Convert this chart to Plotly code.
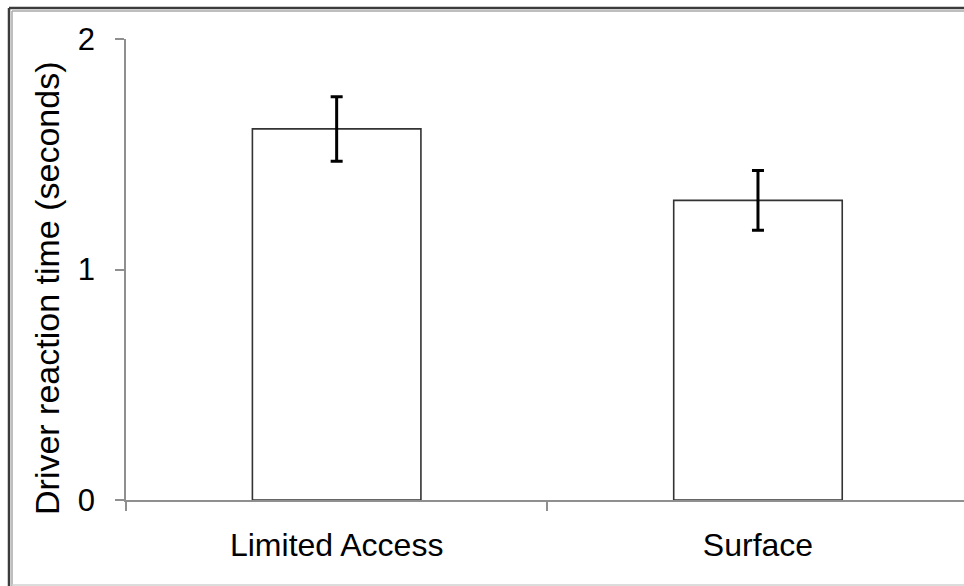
import plotly.graph_objects as go

# Mean driver reaction time by road type, with error bars
categories = ["Limited Access", "Surface"]
reaction_time = [1.61, 1.30]
error = [0.14, 0.13]
y_ticks = [0, 1, 2]

W, H = 964, 586
L, R, T, B = 126, 0, 39, 86
pw, ph = W - L - R, H - T - B


def px(x):
    return (x - L) / pw


def py(y):
    return (H - B - y) / ph


FONT = "Liberation Sans, Arial, sans-serif"
AXIS_GREY = "#8f8f8f"

fig = go.Figure(
    go.Bar(
        x=categories,
        y=reaction_time,
        width=0.4,
        marker=dict(color="white", line=dict(color="#333333", width=1.6)),
        error_y=dict(type="data", array=error, color="black", thickness=3, width=6),
    )
)

fig.update_layout(
    width=W,
    height=H,
    margin=dict(l=L, r=R, t=T, b=B),
    paper_bgcolor="white",
    plot_bgcolor="white",
    showlegend=False,
    font=dict(family=FONT, size=31, color="black"),
    xaxis=dict(
        type="category",
        range=[-0.5, 1.489],
        showline=True,
        linecolor=AXIS_GREY,
        linewidth=1.5,
        ticks="outside",
        tickson="boundaries",
        ticklen=9,
        tickcolor=AXIS_GREY,
        tickwidth=1.5,
        showgrid=False,
        zeroline=False,
        tickfont=dict(size=32),
        ticklabelstandoff=16,
    ),
    yaxis=dict(
        range=[0, 2],
        tickvals=y_ticks,
        showline=True,
        linecolor=AXIS_GREY,
        linewidth=1.5,
        ticks="outside",
        ticklen=9,
        tickcolor=AXIS_GREY,
        tickwidth=1.5,
        showgrid=False,
        zeroline=False,
        tickfont=dict(size=31),
        ticklabelstandoff=14,
    ),
    annotations=[
        dict(
            text="Driver reaction time (seconds)",
            textangle=-90,
            xref="paper",
            yref="paper",
            x=px(47),
            y=py(289),
            xanchor="center",
            yanchor="middle",
            showarrow=False,
            font=dict(size=34, family=FONT, color="black"),
        )
    ],
)

# Outer frame: dark outer rule with a lighter inner rule, faint bottom rule
frame = [
    (px(9), py(8), px(9), py(586), "#3c3c3c", 2.5),
    (px(9), py(8), px(964), py(8), "#3c3c3c", 2.5),
    (px(12), py(11), px(12), py(586), "#a8a8a8", 1.5),
    (px(12), py(11), px(964), py(11), "#a8a8a8", 1.5),
    (px(12), py(585), px(964), py(585), "#d0d0d0", 1.5),
]
for x0, y0, x1, y1, c, w in frame:
    fig.add_shape(
        type="line", xref="paper", yref="paper",
        x0=x0, y0=y0, x1=x1, y1=y1,
        line=dict(color=c, width=w), layer="above",
    )

fig.write_html("out.html")
